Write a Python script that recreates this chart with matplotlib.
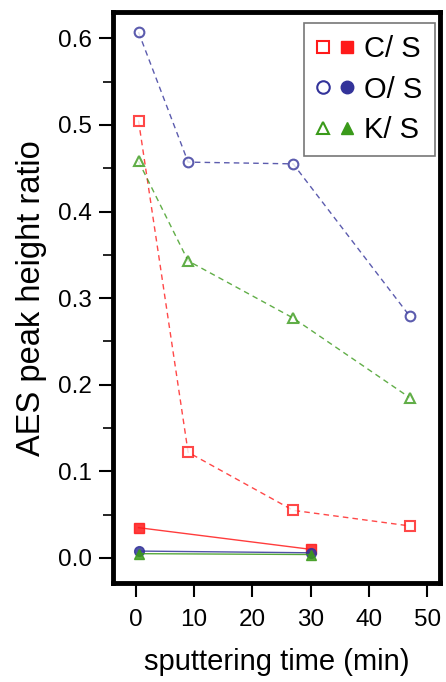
import matplotlib.pyplot as plt
from matplotlib.legend_handler import HandlerTuple
from matplotlib.ticker import MultipleLocator

plt.rcParams["font.family"] = ["Liberation Sans", "DejaVu Sans"]

# sputtered sample (open symbols)
t_open = [0.5, 9, 27, 47]
cs_open = [0.505, 0.122, 0.055, 0.037]
os_open = [0.607, 0.457, 0.455, 0.279]
ks_open = [0.458, 0.343, 0.277, 0.185]

# reference sample (filled symbols)
t_fill = [0.5, 30]
cs_fill = [0.035, 0.010]
os_fill = [0.008, 0.006]
ks_fill = [0.005, 0.004]

red = "#ff1a1a"
blue = "#33339a"
green = "#3a9a1a"

fig = plt.figure(figsize=(4.46, 6.82), dpi=100)
ax = fig.add_axes([0.253, 0.145, 0.734, 0.837])

series = [
    ("C/ S", cs_open, cs_fill, red, "s"),
    ("O/ S", os_open, os_fill, blue, "o"),
    ("K/ S", ks_open, ks_fill, green, "^"),
]
handles = []
labels = []
for label, yo, yf, col, mk in series:
    ax.plot(t_open, yo, ls=(0, (4, 3)), lw=1.0, color=col, alpha=0.8,
            marker=mk, ms=7, mfc="white", mec=col, mew=1.5)
    ax.plot(t_fill, yf, ls="-", lw=1.0, color=col, alpha=0.85,
            marker=mk, ms=7, mfc=col, mec=col)
    handles.append((
        plt.Line2D([], [], ls="", marker=mk, ms=9, mfc="white", mec=col, mew=1.5),
        plt.Line2D([], [], ls="", marker=mk, ms=9, mfc=col, mec=col),
    ))
    labels.append(label)

ax.set_xlim(-3.9, 52.2)
ax.set_ylim(-0.029, 0.63)
ax.set_xticks([0, 10, 20, 30, 40, 50])
ax.set_yticks([0.0, 0.1, 0.2, 0.3, 0.4, 0.5, 0.6])
ax.yaxis.set_minor_locator(MultipleLocator(0.05))
ax.yaxis.set_major_formatter(plt.FormatStrFormatter("%.1f"))
ax.tick_params(direction="out", length=10, width=1.5, labelsize=17.5, pad=5)
ax.tick_params(axis="x", pad=9)
ax.tick_params(which="minor", direction="out", length=7, width=1.2)
for sp in ax.spines.values():
    sp.set_linewidth(3.5)

ax.set_xlabel("sputtering time (min)", fontsize=21, labelpad=12)
ax.set_ylabel("AES peak height ratio", fontsize=23.5, labelpad=8)

leg = ax.legend(handles, labels, handler_map={tuple: HandlerTuple(ndivide=None, pad=0.3)},
                loc="upper right", fontsize=21, frameon=True, fancybox=False,
                handlelength=1.3, handletextpad=0.35, labelspacing=0.42,
                borderpad=0.42, borderaxespad=0.0, bbox_to_anchor=(0.983, 0.981))
leg.get_frame().set_edgecolor("#555555")
leg.get_frame().set_linewidth(1.2)

fig.savefig("out.png", dpi=100)
